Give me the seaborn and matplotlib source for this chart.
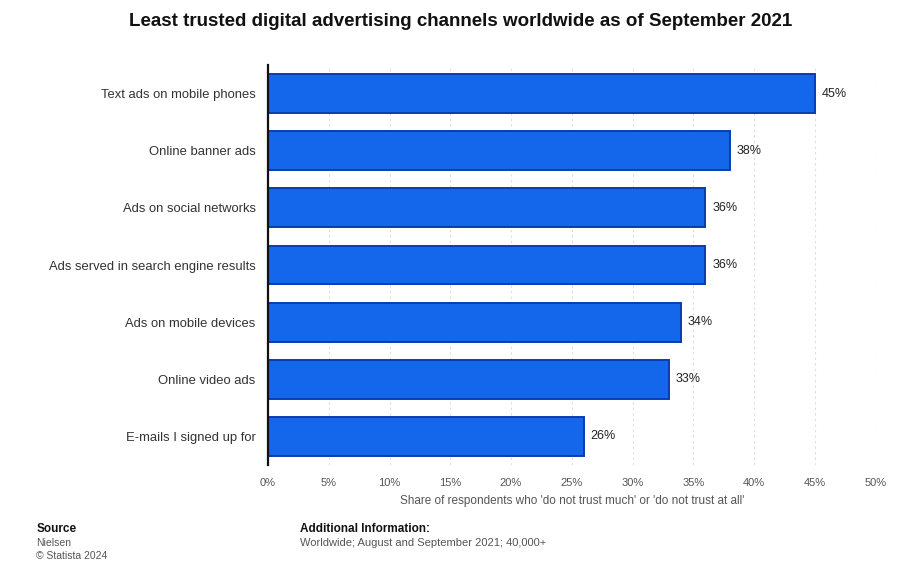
import matplotlib
matplotlib.use("Agg")
import matplotlib.pyplot as plt
import seaborn as sns
import pandas as pd

categories = [
    "Text ads on mobile phones",
    "Online banner ads",
    "Ads on social networks",
    "Ads served in search engine results",
    "Ads on mobile devices",
    "Online video ads",
    "E-mails I signed up for",
]
shares = [45, 38, 36, 36, 34, 33, 26]
x_ticks = [0, 5, 10, 15, 20, 25, 30, 35, 40, 45, 50]

sns.set_theme(style="white")
plt.rcParams["font.family"] = ["Liberation Sans", "DejaVu Sans"]

df = pd.DataFrame({"channel": categories, "share": shares})

fig = plt.figure(figsize=(9.04, 5.85), dpi=100)
fig.patch.set_facecolor("white")
ax = fig.add_axes([0.2965, 0.205, 0.672, 0.684])

sns.barplot(data=df, x="share", y="channel", orient="h", ax=ax,
            color="#1466ea", edgecolor="#0a3cb0", linewidth=1.4,
            width=0.68, saturation=1)

ax.set_xlim(0, 50)
ax.set_ylim(6.5, -0.5)
ax.set_xticks(x_ticks)
ax.set_xticklabels([f"{t}%" for t in x_ticks], color="#555555", fontsize=8)
ax.tick_params(axis="x", length=0, pad=9)
ax.tick_params(axis="y", length=0, pad=9, labelsize=9.4, labelcolor="#333333")
ax.grid(axis="x", color="#dddddd", linestyle=(0, (2, 3)), linewidth=0.8)
ax.set_axisbelow(True)
for s in ["top", "right", "bottom"]:
    ax.spines[s].set_visible(False)
ax.spines["left"].set_color("#111111")
ax.spines["left"].set_linewidth(1.6)

ax.set_ylabel("")
ax.set_xlabel("Share of respondents who 'do not trust much' or 'do not trust at all'",
              fontsize=8.5, color="#555555", labelpad=5)

for i, v in enumerate(shares):
    ax.text(v + 0.55, i, f"{v}%", va="center", ha="left", fontsize=9, color="#222222")

fig.text(0.509, 0.963, "Least trusted digital advertising channels worldwide as of September 2021",
         ha="center", va="center", fontsize=13.5, fontweight="bold", color="#111111")

fig.text(0.04, 0.095, "Source", fontsize=8.5, fontweight="bold", color="#111111", va="center")
fig.text(0.04, 0.072, "Nielsen", fontsize=7.5, color="#555555", va="center")
fig.text(0.04, 0.050, "\u00a9 Statista 2024", fontsize=7.5, color="#555555", va="center")
fig.text(0.332, 0.095, "Additional Information:", fontsize=8.5, fontweight="bold",
         color="#111111", va="center")
fig.text(0.332, 0.072, "Worldwide; August and September 2021; 40,000+", fontsize=8,
         color="#555555", va="center")

fig.savefig("out.png", dpi=100, facecolor="white")
